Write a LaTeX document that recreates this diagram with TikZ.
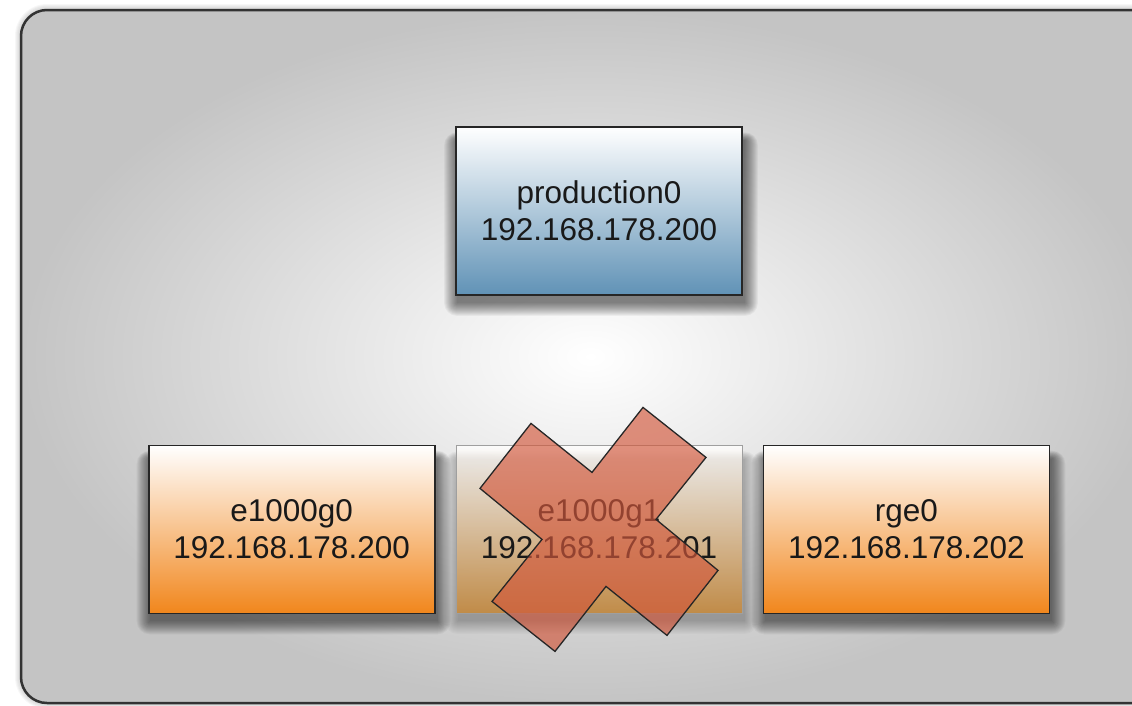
\documentclass[tikz,border=0pt]{standalone}
\usepackage{fontspec}
\setmainfont{Liberation Sans}
\usetikzlibrary{positioning,backgrounds}
\definecolor{panelgray}{RGB}{196,196,196}
\definecolor{ifblue}{RGB}{96,146,182}
\definecolor{iforange}{RGB}{241,134,28}
\definecolor{ifdown}{RGB}{204,136,50}
\definecolor{crossred}{RGB}{210,88,60}
\pgfdeclarelayer{shadow}
\pgfsetlayers{background,shadow,main}

\begin{document}
\begin{tikzpicture}[x=1pt,y=1pt,
        iface/.style={draw=black!85,line width=1.8pt,minimum width=286pt,minimum height=168pt,
            align=center,inner sep=0pt,text=black!90,font=\fontsize{31.5}{37}\selectfont,top color=white},
        upface/.style={iface,bottom color=iforange},
        downface/.style={iface,bottom color=ifdown,draw=gray!75,line width=1pt,fill opacity=0.78,text opacity=1},
        crossmark/.style={fill=crossred,fill opacity=0.66,draw=black!85,line width=1.3pt,line join=miter}]
    \useasboundingbox (0,0) rectangle (1132,-705);
    \clip (0,0) rectangle (1132,-705);
    \begin{pgfonlayer}{background}
        \foreach \k in {1,...,6}
            \fill[black,opacity=0.03,rounded corners=26pt+\k pt] (21-\k,-10+\k) rectangle (1160+\k,-703-\k);
        \draw[line width=2.5pt,draw=black!80,rounded corners=26pt,inner color=white,outer color=panelgray]
            (21,-10) rectangle (1160,-703);
    \end{pgfonlayer}
    \node[iface,bottom color=ifblue] (prod) at (599,-211) {production0\\192.168.178.200};
    \node[downface,below=149pt of prod] (ge1) {e1000g1\\192.168.178.201};
    \node[upface,left=20pt of ge1] (ge0) {e1000g0\\192.168.178.200};
    \node[upface,right=20pt of ge1] (rge) {rge0\\192.168.178.202};
    \begin{pgfonlayer}{shadow}
        \foreach \n/\o in {prod/0.045,ge0/0.045,rge/0.045,ge1/0.02}
            \foreach \k in {0,...,13}
                \fill[black,opacity=\o,rounded corners=\k pt]
                    ([shift={(2-\k,-7-\k)}]\n.south west) rectangle ([shift={(2+\k,-14+0.6*\k)}]\n.north east);
    \end{pgfonlayer}
    \begin{scope}[shift={(ge1.center)}]
        \filldraw[crossmark] (-68,106) -- (-7,57) -- (44,122) -- (107,72) -- (57,10) -- (119,-41)
            -- (68,-106) -- (7,-57) -- (-44,-122) -- (-107,-72) -- (-57,-10) -- (-119,41) -- cycle;
    \end{scope}
\end{tikzpicture}
\end{document}
